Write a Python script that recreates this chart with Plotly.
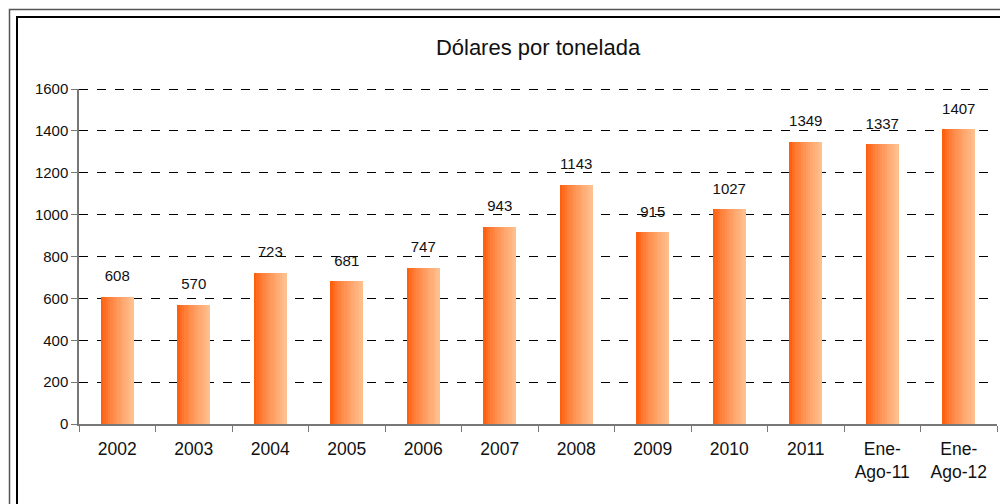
import plotly.graph_objects as go

categories = ["2002", "2003", "2004", "2005", "2006", "2007", "2008", "2009", "2010", "2011",
              "Ene-<br>Ago-11", "Ene-<br>Ago-12"]
values = [608, 570, 723, 681, 747, 943, 1143, 915, 1027, 1349, 1337, 1407]
labels = [str(v) for v in values]
y_ticks = [0, 200, 400, 600, 800, 1000, 1200, 1400, 1600]

OFF = 8  # page body margin
W, H = 1008 - OFF, 504 - OFF
ML, MR, MT, MB = 79 - OFF, 11, 89 - OFF, 80

fig = go.Figure()

# gradient bars built from thin slices
n = 14
bw = 0.43
c0 = (255, 96, 16)
c1 = (255, 192, 144)
for i in range(n):
    t = i / (n - 1)
    t = t ** 0.8
    col = tuple(int(round(c0[k] + (c1[k] - c0[k]) * t)) for k in range(3))
    fig.add_trace(go.Bar(
        x=categories, y=values,
        width=bw / n + 0.002,
        offset=-bw / 2 + i * bw / n,
        marker=dict(color="rgb(%d,%d,%d)" % col, line=dict(width=0)),
        hoverinfo="skip", showlegend=False,
    ))

fig.add_trace(go.Scatter(
    x=categories, y=values, mode="markers+text", text=labels,
    textposition="top center",
    marker=dict(size=17, color="rgba(0,0,0,0)"),
    textfont=dict(family="Liberation Sans, Arial", size=15, color="#111"),
    showlegend=False, hoverinfo="skip", cliponaxis=False,
))

pw = W - ML - MR
ph = H - MT - MB
def px(x):
    return (x - OFF - ML) / pw
def py(y):
    return (H - MB - (y - OFF)) / ph

fig.update_layout(
    width=W, height=H,
    margin=dict(l=ML, r=MR, t=MT, b=MB),
    paper_bgcolor="white", plot_bgcolor="white",
    barmode="overlay", bargap=0,
    title=dict(text="Dólares por tonelada", x=0.5, xanchor="center", xref="paper",
               y=1 - (47 - OFF) / H, yanchor="middle",
               font=dict(family="Liberation Sans, Arial", size=22, color="#111")),
    font=dict(family="Liberation Sans, Arial", color="#111"),
    shapes=[
        dict(type="rect", xref="paper", yref="paper",
             x0=px(9.5), x1=px(1040), y0=py(9.5), y1=py(540),
             line=dict(color="#555", width=1.5)),
        dict(type="rect", xref="paper", yref="paper",
             x0=px(17), x1=px(1040), y0=py(17), y1=py(540),
             line=dict(color="#000", width=2)),
        dict(type="line", xref="paper", yref="paper", x0=0, x1=1,
             y0=1 - 0.5 / ph, y1=1 - 0.5 / ph, layer="below",
             line=dict(color="#000", width=1, dash="dash")),
    ],
)

fig.update_xaxes(
    type="category", range=[-0.5, len(categories) - 0.5],
    showline=True, linecolor="#777", linewidth=1.5,
    ticks="outside", tickson="boundaries", ticklen=6, tickcolor="#777",
    ticklabelstandoff=8,
    tickfont=dict(size=17.5, color="#111"), showgrid=False, zeroline=False,
)
fig.update_yaxes(
    range=[0, 1600], tickvals=y_ticks, showline=True, linecolor="#777", linewidth=1.5,
    ticks="outside", ticklen=6, tickcolor="#777",
    tickfont=dict(size=15, color="#111"),
    showgrid=True, gridcolor="#000", gridwidth=1, griddash="dash", zeroline=False,
)

fig.write_html("out.html")
